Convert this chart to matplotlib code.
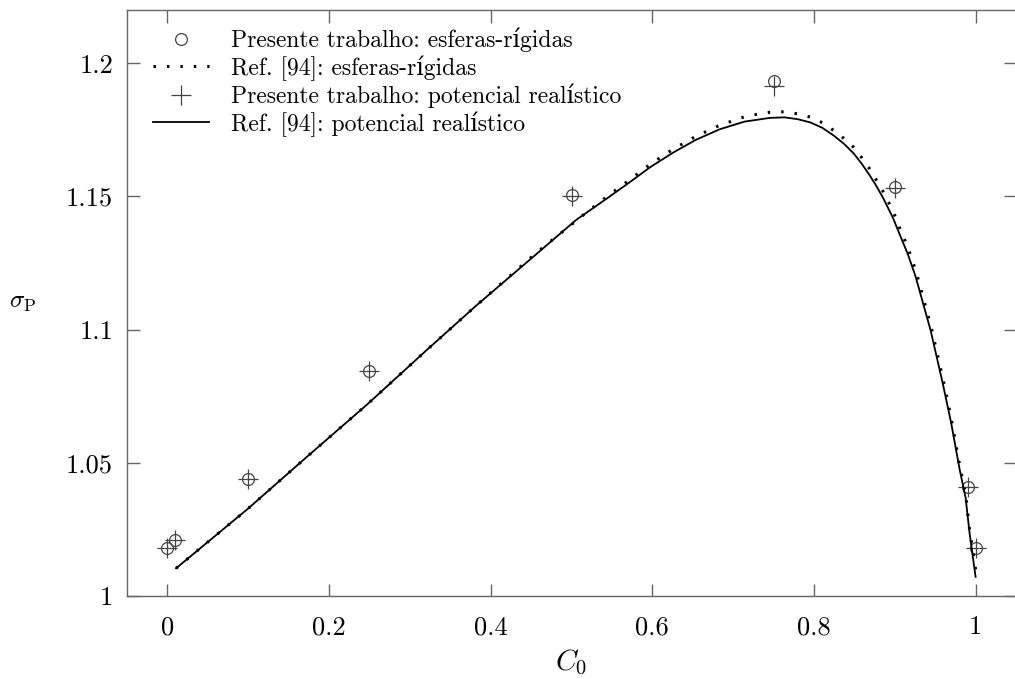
import matplotlib
matplotlib.use("Agg")
import matplotlib.pyplot as plt

plt.rcParams['font.family'] = ['cmr10', 'DejaVu Serif']
plt.rcParams['mathtext.fontset'] = 'cm'
plt.rcParams['axes.formatter.use_mathtext'] = True

# Points: present work
c_pts = [0.0, 0.01, 0.1, 0.25, 0.5, 0.75, 0.9, 0.99, 1.0]
sig_hs = [1.018, 1.021, 1.044, 1.0843, 1.1505, 1.1933, 1.1535, 1.0408, 1.018]
sig_real = [1.018, 1.021, 1.044, 1.0843, 1.1500, 1.1913, 1.1530, 1.0408, 1.018]

# Ref. [94]: realistic potential (solid curve)
c_ref_real = [0.0107, 0.0986, 0.1724, 0.2471, 0.320, 0.382, 0.4047, 0.4563, 0.5058,
              0.545, 0.5718, 0.5974, 0.6254, 0.6535, 0.6832, 0.7141, 0.7455, 0.7636,
              0.780, 0.7954, 0.8102, 0.8243, 0.837, 0.849, 0.8593, 0.8688, 0.8771,
              0.8853, 0.8977, 0.906, 0.9162, 0.9257, 0.9443, 0.9596, 0.9699, 0.9802,
              0.9876, 0.9926, 1.0]
sig_ref_real = [1.0104, 1.0325, 1.0522, 1.0719, 1.0921, 1.109, 1.1149, 1.1283, 1.1412,
                1.1495, 1.1553, 1.1610, 1.1664, 1.1712, 1.1752, 1.1781, 1.1795, 1.1797,
                1.1790, 1.1778, 1.1758, 1.1729, 1.1698, 1.1662, 1.1622, 1.1580, 1.1540,
                1.1496, 1.1420, 1.1358, 1.1283, 1.1200, 1.0998, 1.0795, 1.0648, 1.0476,
                1.0370, 1.0235, 1.0072]

# Ref. [94]: hard spheres (dotted curve)
c_ref_hs = [0.0107, 0.0986, 0.1724, 0.2471, 0.320, 0.382, 0.4563, 0.5182, 0.545, 0.5718,
            0.5974, 0.6254, 0.6535, 0.6832, 0.7141, 0.7286, 0.7455, 0.7636, 0.780, 0.7954,
            0.8102, 0.8243, 0.837, 0.849, 0.8593, 0.8688, 0.8771, 0.8853, 0.8977, 0.906,
            0.9162, 0.9257, 0.9443, 0.9596, 0.9699, 0.9802, 0.9876, 0.9926, 1.0008]
sig_ref_hs = [1.0104, 1.0325, 1.0522, 1.0719, 1.0921, 1.109, 1.1288, 1.1439, 1.1502, 1.1562,
              1.1621, 1.1677, 1.1725, 1.1767, 1.1799, 1.1808, 1.1816, 1.1818, 1.1810, 1.1798,
              1.1777, 1.1748, 1.1718, 1.1685, 1.1645, 1.1604, 1.1562, 1.152, 1.1446, 1.1383,
              1.1308, 1.1224, 1.1019, 1.0815, 1.0666, 1.0491, 1.0385, 1.0247, 1.0085]

x_ticks = [0, 0.2, 0.4, 0.6, 0.8, 1]
x_ticklabels = ['0', '0.2', '0.4', '0.6', '0.8', '1']
y_ticks = [1.0, 1.05, 1.1, 1.15, 1.2]
y_ticklabels = ['1', '1.05', '1.1', '1.15', '1.2']

labels = ['Presente trabalho: esferas-rígidas',
          'Ref. [94]: esferas-rígidas',
          'Presente trabalho: potencial realístico',
          'Ref. [94]: potencial realístico']

fig = plt.figure(figsize=(10.15, 6.79), dpi=100)
ax = fig.add_axes([127/1015, 1 - 596/679, (1016 - 127)/1015, (596 - 10)/679])

gray = '#444444'
h1, = ax.plot(c_pts, sig_hs, linestyle='none', marker='o', markersize=8.5,
              markerfacecolor='none', markeredgecolor=gray, markeredgewidth=0.9)
h2, = ax.plot(c_ref_hs, sig_ref_hs, color='black', linewidth=2.2,
              linestyle=(0, (0.8, 3.6)), dash_capstyle='butt')
h3, = ax.plot(c_pts, sig_real, linestyle='none', marker='+', markersize=15,
              markeredgecolor=gray, markeredgewidth=0.9)
h4, = ax.plot(c_ref_real, sig_ref_real, color='black', linewidth=1.3)

ax.set_xlim(-0.05, 1.05)
ax.set_ylim(1.0, 1.22)
ax.set_xticks(x_ticks)
ax.set_xticklabels(x_ticklabels)
ax.set_yticks(y_ticks)
ax.set_yticklabels(y_ticklabels)

for s in ax.spines.values():
    s.set_color('#666666')
    s.set_linewidth(1.0)
ax.tick_params(direction='in', length=9, width=1.0, color='#666666',
               top=True, right=True, labelsize=19)
ax.tick_params(axis='x', pad=14)
ax.tick_params(axis='y', pad=10)

ax.set_xlabel(r'$C_0$', fontsize=21)
ax.xaxis.set_label_coords(0.5, -0.113)
ax.xaxis.label.set_verticalalignment('center')
ax.set_ylabel(r'$\sigma_{\mathrm{P}}$', fontsize=18, rotation=0)
ax.yaxis.set_label_coords(-0.117, 0.5)
ax.yaxis.label.set_verticalalignment('center')
ax.yaxis.label.set_horizontalalignment('center')

leg = ax.legend([h1, h2, h3, h4], labels, loc='upper left',
                bbox_to_anchor=(0.029, 0.970), frameon=False, fontsize=17,
                handlelength=2.4, handletextpad=0.9, labelspacing=0.13,
                borderpad=0, borderaxespad=0)

fig.savefig('out.png', dpi=100)
